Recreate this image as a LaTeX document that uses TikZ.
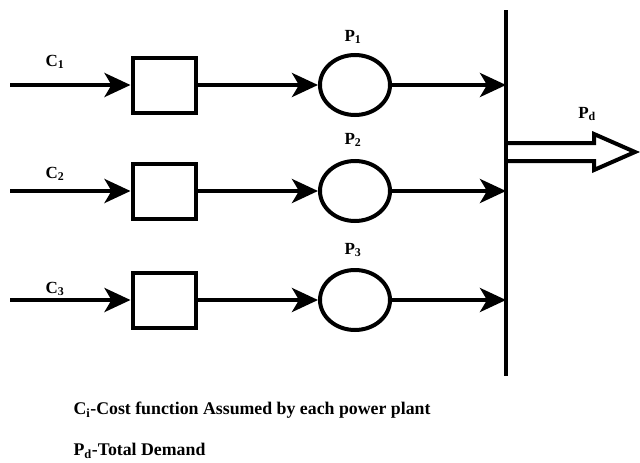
\documentclass[tikz,border=0pt]{standalone}
\usepackage{fontspec}
\setmainfont{Liberation Serif}
\usetikzlibrary{arrows.meta,shapes.geometric}
\begin{document}
\begin{tikzpicture}[x=1pt,y=-1pt,
  lw/.style={line width=4pt},
  conn/.style={lw,-{Stealth[length=26pt,width=24pt,inset=7pt]}},
  blk/.style={draw,lw,minimum width=63pt,minimum height=55pt,inner sep=0pt},
  gen/.style={draw,lw,ellipse,minimum width=70pt,minimum height=60pt,inner sep=0pt},
  lbl/.style={font=\bfseries\fontsize{17}{19}\selectfont},
  note/.style={font=\bfseries\fontsize{17.8}{20}\selectfont,anchor=west}]
\useasboundingbox (0,0) rectangle (640,463);
% rows
\foreach \i/\y in {1/85,2/191,3/300}{
  \coordinate (s\i) at (10,\y);
  \node[blk] (b\i) at (164,\y) {};
  \node[gen] (g\i) at (355,\y) {};
  \coordinate (e\i) at (506,\y);
  \draw[conn] (s\i) -- (b\i.west);
  \draw[conn] (b\i.east) -- (g\i.west);
  \draw[conn] (g\i.east) -- (e\i);
}
\node[lbl] (c1) at (55,62) {C$_\mathbf{1}$};
\node[lbl] (c2) at (55,174) {C$_\mathbf{2}$};
\node[lbl] (c3) at (55,289) {C$_\mathbf{3}$};
\node[lbl] (p1) at (353,37) {P$_\mathbf{1}$};
\node[lbl] (p2) at (353,140) {P$_\mathbf{2}$};
\node[lbl] (p3) at (353,250) {P$_\mathbf{3}$};
\node[lbl] (pd) at (587,114) {P$_\mathbf{d}$};
% bus
\coordinate (bt) at (506,10);
\coordinate (bb) at (506,376);
\draw[lw] (bt) -- (bb);
% output hollow arrow
\coordinate (a1) at (508,143);
\coordinate (a2) at (594,143);
\coordinate (a3) at (594,134);
\coordinate (a4) at (635,152);
\coordinate (a5) at (594,170);
\coordinate (a6) at (594,161);
\coordinate (a7) at (508,161);
\draw[lw,line join=miter,fill=white] (a1) -- (a2) -- (a3) -- (a4) -- (a5) -- (a6) -- (a7);
% notes
\node[note] (n1) at (70,410) {C$_\mathbf{i}$-Cost function Assumed by each power plant};
\node[note] (n2) at (70,451) {P$_\mathbf{d}$-Total Demand};
\end{tikzpicture}
\end{document}
